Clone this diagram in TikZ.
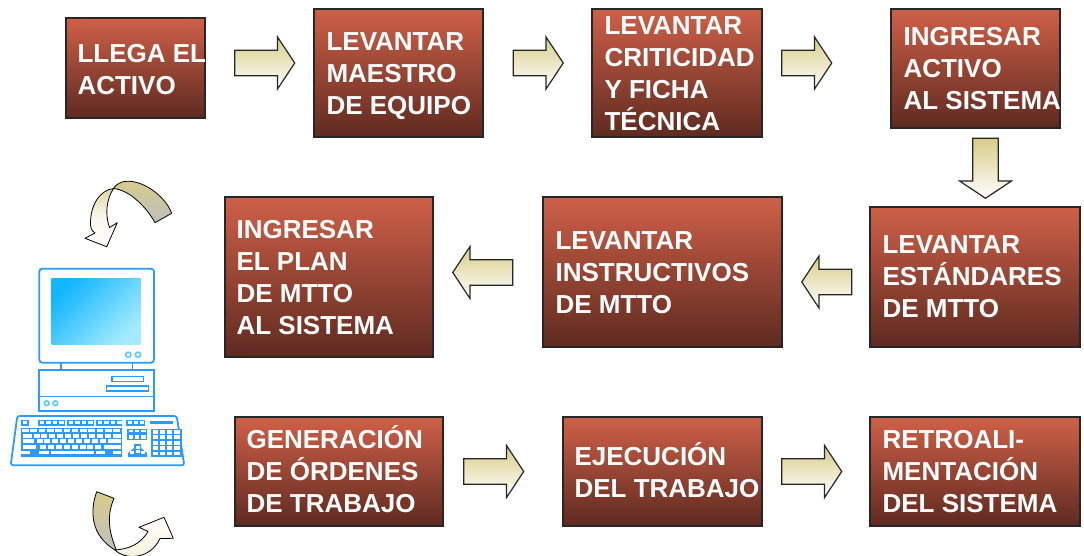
\documentclass[tikz,border=0pt]{standalone}
\usepackage{fontspec}
\setmainfont{Liberation Sans}
\usetikzlibrary{shapes.arrows}
\usetikzlibrary{positioning}

\definecolor{cajaini}{HTML}{CF6048}
\definecolor{cajafin}{HTML}{5E2A20}
\definecolor{flechaini}{HTML}{D8CC88}
\definecolor{azulpc}{HTML}{2B9BFF}
\definecolor{pantini}{HTML}{12B6FF}
\definecolor{pantfin}{HTML}{A4EBFF}
\definecolor{botonpc}{HTML}{55C8FF}

\tikzset{
    caja/.style = {draw = black!85, line width = 1.3pt, top color = cajaini, bottom color = cajafin, inner sep = 0pt},
    rotulo/.style = {text = white, align = left, inner sep = 0pt, font = \fontsize{26}{32}\selectfont\bfseries},
    flecha/.style = {single arrow, draw = black!85, line width = 1.2pt, top color = flechaini, bottom color = white, inner xsep = 0pt, inner ysep = 12pt,
        minimum height = 60, minimum width = 52, single arrow head extend = 13, single arrow tip angle = 113},
    curva/.style = {draw = black, line width = 0.8pt, line join = round},
    pc/.style = {draw = azulpc, line width = 1.5pt},
}

\begin{document}
\begin{tikzpicture}[x = 1pt, y = -1pt]

    \useasboundingbox (0,0) rectangle (1084,556);

    % primera fila
    \node (llega)      [caja, minimum width = 139, minimum height = 100] at (135.5,68) {};
    \node (maestro)    [caja, minimum width = 169, minimum height = 128] at (398.5,73) {};
    \node (critic)     [caja, minimum width = 170, minimum height = 128] at (677,73) {};
    \node (ingresar)   [caja, minimum width = 169, minimum height = 119] at (975.5,68.5) {};

    % segunda fila
    \node (estandar)   [caja, minimum width = 210, minimum height = 140] at (975,277) {};
    \node (instruct)   [caja, minimum width = 239, minimum height = 150] at (662.5,272) {};
    \node (plan)       [caja, minimum width = 208, minimum height = 160] at (329,277) {};

    % tercera fila
    \node (ordenes)    [caja, minimum width = 208, minimum height = 109] at (339,471.5) {};
    \node (ejecucion)  [caja, minimum width = 199, minimum height = 109] at (662.5,471.5) {};
    \node (retro)      [caja, minimum width = 210, minimum height = 109] at (975,471.5) {};

    % textos
    \node (t1)  [rotulo, right = 12 of llega.west, yshift = -1.5]    {LLEGA EL\\ACTIVO};
    \node (t2)  [rotulo, right = 13 of maestro.west, yshift = -3]    {LEVANTAR\\MAESTRO\\DE EQUIPO};
    \node (t3)  [rotulo, right = 13 of critic.west, yshift = -1]     {LEVANTAR\\CRITICIDAD\\Y FICHA\\TÉCNICA};
    \node (t4)  [rotulo, right = 13 of ingresar.west]                {INGRESAR\\ACTIVO\\AL SISTEMA};
    \node (t5)  [rotulo, right = 13 of estandar.west]                {LEVANTAR\\ESTÁNDARES\\DE MTTO};
    \node (t6)  [rotulo, right = 13 of instruct.west, yshift = -1]   {LEVANTAR\\INSTRUCTIVOS\\DE MTTO};
    \node (t7)  [rotulo, right = 12 of plan.west, yshift = -1]       {INGRESAR\\EL PLAN\\DE MTTO\\AL SISTEMA};
    \node (t8)  [rotulo, right = 12 of ordenes.west, yshift = 2]     {GENERACIÓN\\DE ÓRDENES\\DE TRABAJO};
    \node (t9)  [rotulo, right = 12 of ejecucion.west, yshift = 1]   {EJECUCIÓN\\DEL TRABAJO};
    \node (t10) [rotulo, right = 13 of retro.west]                   {RETROALI-\\MENTACIÓN\\DEL SISTEMA};

    % flechas entre cajas
    \node (f1) [flecha] at (260.5,63) {};
    \node (f2) [flecha, minimum height = 50] at (534,63) {};
    \node (f3) [flecha, minimum height = 50] at (802.5,63) {};
    \node (f4) [flecha, shape border rotate = 270, inner xsep = 12pt, inner ysep = 0pt] at (985.5,164) {};
    \node (f5) [flecha, shape border rotate = 180, minimum height = 50] at (831,282) {};
    \node (f6) [flecha, shape border rotate = 180] at (487,272.5) {};
    \node (f7) [flecha] at (489.5,471.5) {};
    \node (f8) [flecha] at (807.5,471.5) {};

    % flecha curva de arriba
    \shade[curva, top color = flechaini, bottom color = black!25]
        (171.7,213.3) .. controls (165,195) and (140,178) .. (123.3,181.7)
        .. controls (118,183) and (115,186) .. (113.5,188.5)
        .. controls (130,190) and (147,208) .. (155,222.7) -- cycle;
    \shade[curva, top color = flechaini!75, bottom color = white, middle color = flechaini!15]
        (113.5,188.5) .. controls (100,190) and (90,205) .. (90.5,225)
        .. controls (91,230) and (93,232) .. (95,233)
        -- (85,238.3) -- (106.7,246.7) -- (117.3,222.7) -- (109.5,227.5)
        .. controls (105,215) and (106,200) .. cycle;

    % flecha curva de abajo
    \shade[curva, top color = flechaini, bottom color = black!25]
        (96.7,491.7) .. controls (90,510) and (90,535) .. (115,550)
        .. controls (120,552) and (118,552) .. (116.7,551)
        .. controls (108,530) and (107,515) .. (114,498.3) -- cycle;
    \shade[curva, top color = white, bottom color = flechaini!30]
        (115,550) .. controls (125,560) and (150,560) .. (160,538.5)
        -- (173.3,538.3) -- (164,517.3) -- (139,527.3) -- (148,531.5)
        .. controls (140,545) and (128,549) .. cycle;

    % monitor
    \draw[pc, rounded corners = 3, line width = 1.8pt] (39.3,268.7) rectangle (154,362.7);
    \shade[left color = pantini, right color = pantfin, shading angle = 45] (51.7,278.3) rectangle (140.7,344.3);
    \foreach \cx in {128.3,138} {
        \draw[pc, draw = botonpc] (\cx,354.7) circle (2.6);
    }
    \draw[pc] (61,362.7) -- (61,370);
    \draw[pc] (132.3,362.7) -- (132.3,370);

    % gabinete
    \draw[pc, line width = 1.8pt] (39,370) rectangle (154.3,410.7);
    \draw[pc] (39,396.7) -- (154.3,396.7);
    \draw[pc, line width = 1.2pt] (112,376.7) rectangle (143.3,381.7);
    \draw[pc, line width = 1.2pt] (106.7,386) rectangle (148.3,391);
    \foreach \cx in {46.7,55.3} {
        \draw[pc, draw = botonpc] (\cx,403.3) circle (2.4);
    }

    % teclado
    \draw[pc, rounded corners = 2.5, line width = 1.8pt] (17.3,416) -- (176.7,416) -- (184.3,465.3) -- (10.7,465.3) -- cycle;
    \fill[azulpc] (21,420) rectangle (29,426);
    \fill[azulpc] (38,420) rectangle (65,426);
    \fill[azulpc] (67,420) rectangle (94,426);
    \fill[azulpc] (96,420) rectangle (122,426);
    \fill[azulpc] (126,420) rectangle (145,426);
    \fill[azulpc] (150,421) rectangle (173,423.5);
    \foreach \cx in {22.5,39.5,46,52.5,59,68.5,75,81.5,88,97.5,104,110.5,117,127.5,133.5,139.5} {
        \fill[white] (\cx,420.8) rectangle ++(4.6,3);
    }

    % bloque principal
    \fill[azulpc] (21,428) rectangle (122,457);
    \foreach \col in {0,...,11} {
        \fill[white] ({22+\col*8.3},429) rectangle ++(6.6,2.6);
    }
    \fill[white] (23,433.5) rectangle ++(8.5,4);
    \foreach \col in {0,...,9} {
        \fill[white] ({33.5+\col*7.9},433.5) rectangle ++(6,4);
    }
    \fill[white] (113,433.5) rectangle ++(8,4);
    \fill[white] (23,439) rectangle ++(11,4);
    \foreach \col in {0,...,8} {
        \fill[white] ({36.5+\col*7.9},439) rectangle ++(6,4);
    }
    \fill[white] (108,439) rectangle ++(13,4);
    \fill[white] (23,444.5) rectangle ++(13,4);
    \foreach \col in {0,...,7} {
        \fill[white] ({40+\col*7.9},444.5) rectangle ++(6,4);
    }
    \fill[white] (104,444.5) rectangle ++(17,4);
    \fill[white] (21,450.5) rectangle ++(9,3.5);
    \fill[white] (39,450.5) rectangle ++(10,3.5);
    \fill[white] (51,450.5) rectangle ++(43,3.5);
    \fill[white] (96,450.5) rectangle ++(9,3.5);
    \fill[white] (113,450.5) rectangle ++(8,3.5);

    % bloque de navegacion
    \fill[azulpc] (127,429) rectangle (147,440);
    \foreach \col in {0,1,2} {
        \fill[white] ({128.5+\col*6.3},430) rectangle ++(4.6,2.4);
        \fill[white] ({128.5+\col*6.3},434.5) rectangle ++(4.6,4);
    }
    \fill[azulpc] (134,444) -- (141,444) -- (141,448) -- (147,453) -- (147,457) -- (128,457) -- (128,453) -- (134,448) -- cycle;
    \fill[white] (135.5,445.5) rectangle ++(4,3);
    \fill[white] (135.5,450) rectangle ++(4,3);
    \fill[white] (130,451) rectangle ++(4,3);
    \fill[white] (141,451) rectangle ++(4,3);

    % bloque numerico
    \fill[azulpc] (151,429) rectangle (182,457);
    \foreach \col in {0,...,3} {
        \foreach \row in {0,...,4} {
            \fill[white] ({152.5+\col*7.2},{430+\row*5.4}) rectangle ++(5.4,3.8);
        }
    }

\end{tikzpicture}
\end{document}
